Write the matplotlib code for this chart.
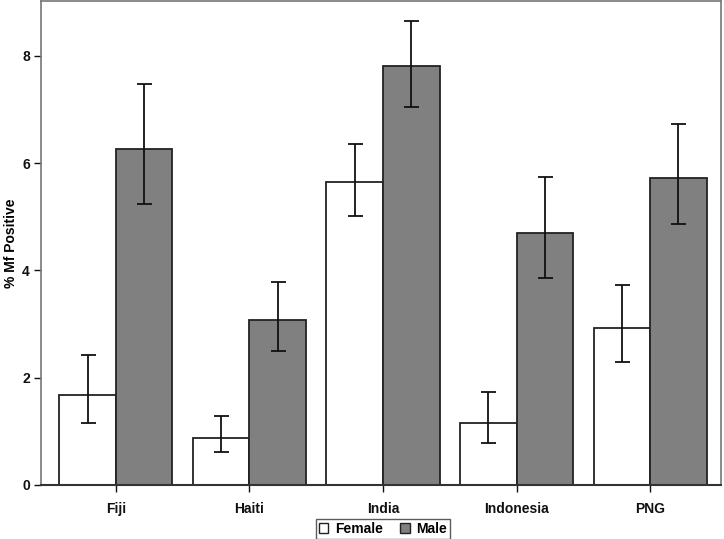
import numpy as np
import matplotlib.pyplot as plt
from matplotlib.patches import Patch

plt.rcParams['font.family'] = ['Liberation Sans', 'DejaVu Sans']
plt.rcParams['font.weight'] = 'bold'

countries = ['Fiji', 'Haiti', 'India', 'Indonesia', 'PNG']
female = [1.67, 0.88, 5.65, 1.16, 2.92]
female_lo = [1.15, 0.62, 5.01, 0.78, 2.29]
female_hi = [2.42, 1.28, 6.36, 1.74, 3.73]
male = [6.27, 3.07, 7.80, 4.70, 5.72]
male_lo = [5.23, 2.50, 7.04, 3.85, 4.87]
male_hi = [7.48, 3.78, 8.65, 5.74, 6.73]

fig = plt.figure(figsize=(7.24, 5.39), dpi=100)
ax = fig.add_axes([41/724, 54/539, 680/724, 484/539])

x = np.arange(len(countries))
w = 0.423

# bars
ax.bar(x - w/2, female, width=w, color='white', edgecolor='#222222', linewidth=1.3)
ax.bar(x + w/2, male, width=w, color='#808080', edgecolor='#222222', linewidth=1.3)

# confidence intervals
f_err = [np.array(female) - np.array(female_lo), np.array(female_hi) - np.array(female)]
m_err = [np.array(male) - np.array(male_lo), np.array(male_hi) - np.array(male)]
ax.errorbar(x - w/2, female, yerr=f_err, fmt='none', ecolor='#111111', elinewidth=1.3, capsize=5.4, capthick=1.3)
ax.errorbar(x + w/2, male, yerr=m_err, fmt='none', ecolor='#111111', elinewidth=1.3, capsize=5.4, capthick=1.3)

ax.set_xlim(-0.56, 4.53)
ax.set_ylim(0, 9.02)
ax.set_yticks([0, 2, 4, 6, 8])
ax.set_xticks(x)
ax.set_xticklabels(countries)
ax.tick_params(axis='both', labelsize=10, colors='#111111', length=5, width=1)
ax.tick_params(axis='y', pad=3)
ax.tick_params(axis='x', pad=7)
ax.set_ylabel('% Mf Positive', fontsize=10, fontweight='bold')
ax.yaxis.set_label_coords(-0.034, 0.5)

for s in ['left', 'top', 'right']:
    ax.spines[s].set_color('#777777')
    ax.spines[s].set_linewidth(1.2)
ax.spines['bottom'].set_color('#333333')
ax.spines['bottom'].set_linewidth(1.5)

handles = [Patch(facecolor='white', edgecolor='#222222', label='Female'),
           Patch(facecolor='#808080', edgecolor='#222222', label='Male')]
leg = fig.legend(handles=handles, loc='center', bbox_to_anchor=(383/724, 1 - 529/539), ncol=2,
                 fontsize=10, frameon=True, fancybox=False, handlelength=0.7, handleheight=0.7,
                 handletextpad=0.5, columnspacing=1.2, borderpad=0.2)
leg.get_frame().set_edgecolor('#333333')
leg.get_frame().set_linewidth(1)

fig.savefig('out.png', dpi=100)
